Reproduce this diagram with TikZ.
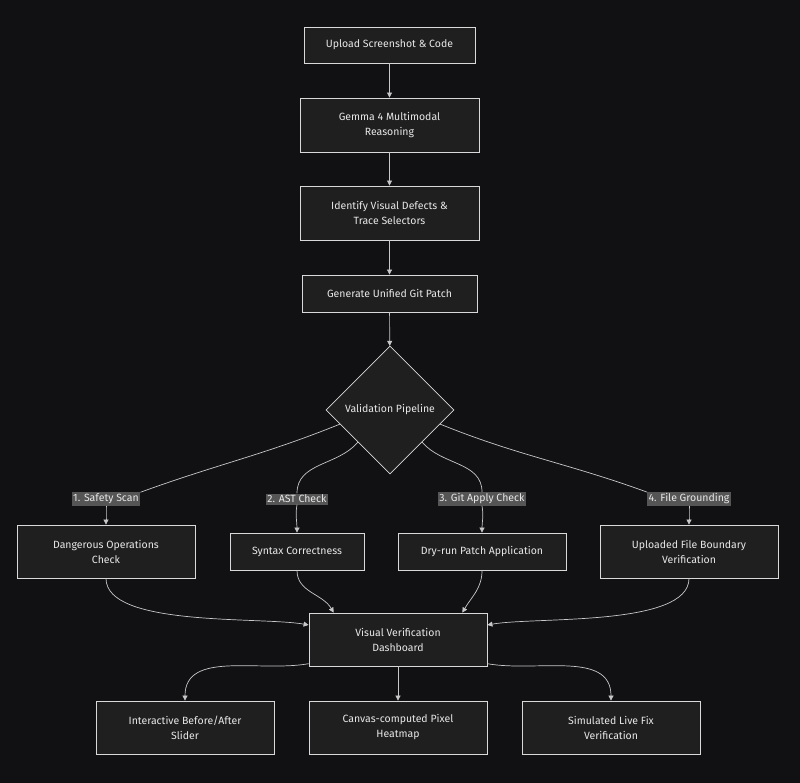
\documentclass[tikz,border=0pt]{standalone}
\usepackage{fontspec}
\setmainfont{Fira Sans}
\usetikzlibrary{shapes.geometric,arrows.meta,calc}
\definecolor{bg}{HTML}{111114}
\definecolor{boxfill}{HTML}{1F1F1F}
\definecolor{edge}{HTML}{C8C8C8}
\definecolor{txt}{HTML}{E8E8E8}
\definecolor{lbl}{HTML}{555555}
\begin{document}
\begin{tikzpicture}[x=1pt,y=-1pt,
  box/.style={draw=edge!70,fill=boxfill,text=txt,font=\fontsize{10.5}{15}\selectfont,align=center,inner sep=0pt,line width=0.8pt},
  dia/.style={draw=edge!70,fill=boxfill,text=txt,font=\fontsize{10.5}{15}\selectfont,diamond,minimum width=128pt,minimum height=128pt,inner sep=0pt,line width=0.8pt},
  lab/.style={fill=lbl,text=txt,font=\fontsize{10.5}{12}\selectfont,inner sep=1.5pt},
  con/.style={draw=edge,line width=0.7pt},
  arr/.style={con,-{Triangle[length=5pt,width=5pt]}}]
\fill[bg] (0,0) rectangle (800,783);
\useasboundingbox (0,0) rectangle (800,783);
\node[box,minimum width=171pt,minimum height=36pt] (n1) at (389.5,45) {Upload Screenshot \& Code};
\node[box,minimum width=179pt,minimum height=54pt] (n2) at (389.5,125) {Gemma 4 Multimodal\\Reasoning};
\node[box,minimum width=179pt,minimum height=54pt] (n3) at (389.5,213) {Identify Visual Defects \&\\Trace Selectors};
\node[box,minimum width=175pt,minimum height=37pt] (n4) at (389.5,293.5) {Generate Unified Git Patch};
\node[dia] (v) at (390,410) {Validation Pipeline};
\node[box,minimum width=178pt,minimum height=53pt] (d1) at (106,551.5) {Dangerous Operations\\Check};
\node[box,minimum width=134pt,minimum height=37pt] (d2) at (297,551.5) {Syntax Correctness};
\node[box,minimum width=168pt,minimum height=37pt] (d3) at (482,551.5) {Dry-run Patch Application};
\node[box,minimum width=178pt,minimum height=53pt] (d4) at (689,551.5) {Uploaded File Boundary\\Verification};
\node[box,minimum width=178pt,minimum height=53pt] (vd) at (398,639.5) {Visual Verification\\Dashboard};
\node[box,minimum width=178pt,minimum height=53pt] (b1) at (185,727.5) {Interactive Before/After\\Slider};
\node[box,minimum width=178pt,minimum height=53pt] (b2) at (398,727.5) {Canvas-computed Pixel\\Heatmap};
\node[box,minimum width=178pt,minimum height=53pt] (b3) at (611,727.5) {Simulated Live Fix\\Verification};
\node[lab] (l1) at (106,499) {1. Safety Scan};
\node[lab] (l2) at (297,499) {2. AST Check};
\node[lab] (l3) at (482,499) {3. Git Apply Check};
\node[lab] (l4) at (689,499) {4. File Grounding};
\draw[arr] (n1) -- (n2);
\draw[arr] (n2) -- (n3);
\draw[arr] (n3) -- (n4);
\draw[arr] (n4) -- (v);
\coordinate (s1) at ($(v.west)!0.22!(v.south)$);
\coordinate (s2) at ($(v.west)!0.5!(v.south)$);
\coordinate (s3) at ($(v.east)!0.5!(v.south)$);
\coordinate (s4) at ($(v.east)!0.22!(v.south)$);
\draw[con] (s1) to[out=-158,in=20] (l1.north east);
\draw[arr] (l1.south) to[out=-90,in=90] (d1.north);
\draw[con] (s2) to[out=-130,in=90] (l2.north);
\draw[arr] (l2.south) to[out=-100,in=90] (d2.north);
\draw[con] (s3) to[out=-50,in=90] (l3.north);
\draw[arr] (l3.south) to[out=-80,in=90] (d3.north);
\draw[con] (s4) to[out=-22,in=160] (l4.north west);
\draw[arr] (l4.south) to[out=-90,in=90] (d4.north);
\draw[arr] (d1.south) to[out=-90,in=170,looseness=0.6] ($(vd.north west)!0.23!(vd.south west)$);
\draw[arr] (d2.south) to[out=-90,in=120] ($(vd.north west)!0.14!(vd.north east)$);
\draw[arr] (d3.south) to[out=-90,in=60] ($(vd.north east)!0.14!(vd.north west)$);
\draw[arr] (d4.south) to[out=-90,in=10,looseness=0.6] ($(vd.north east)!0.23!(vd.south east)$);
\draw[arr] ($(vd.south west)!0.05!(vd.north west)$) to[out=190,in=90] (b1.north);
\draw[arr] (vd.south) -- (b2.north);
\draw[arr] ($(vd.south east)!0.05!(vd.north east)$) to[out=-10,in=90] (b3.north);
\end{tikzpicture}
\end{document}
